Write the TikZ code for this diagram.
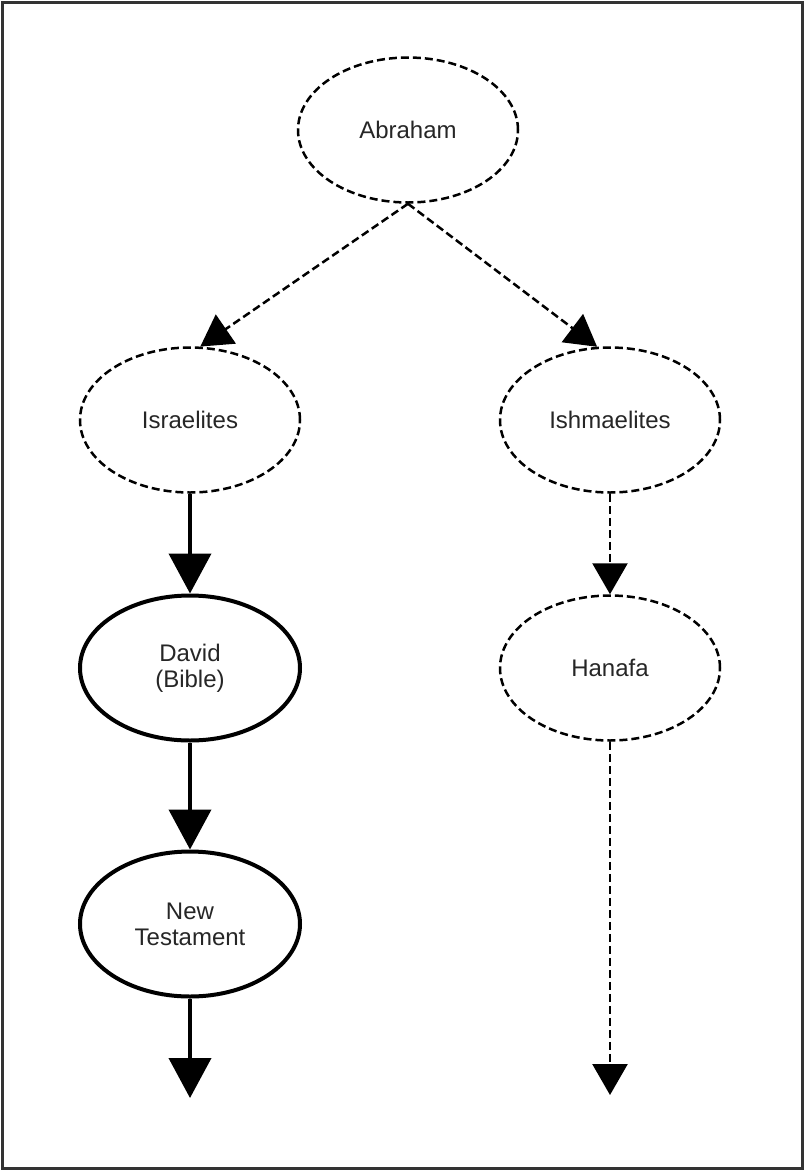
\documentclass[tikz,border=0pt]{standalone}
\usepackage{fontspec}
\setmainfont{Liberation Sans}
\usetikzlibrary{arrows.meta,shapes.geometric}

\begin{document}
\begin{tikzpicture}[x=1pt,y=-1pt,
  oval/.style={ellipse,minimum width=220pt,minimum height=145pt,inner sep=0pt,align=center,font=\fontsize{24}{26}\selectfont,text=black!85},
  hazy/.style={oval,draw,line width=2.5pt,dash pattern=on 8pt off 4pt},
  firm/.style={oval,draw,line width=4pt},
  hazyarrow/.style={-{Triangle[length=31pt,width=35pt]},line width=2.5pt,dash pattern=on 8pt off 4pt},
  firmarrow/.style={-{Triangle[length=40pt,width=42pt]},line width=4pt}]
\useasboundingbox (0,0) rectangle (805,1171);
\draw[line width=3pt,black!80] (2.5,2.5) rectangle (802.5,1168.5);
\node[hazy] (abraham) at (408,130) {Abraham};
\node[hazy] (israelites) at (190,420) {Israelites};
\node[hazy] (ishmaelites) at (610,420) {Ishmaelites};
\node[firm] (david) at (190,668) {David\\(Bible)};
\node[hazy] (hanafa) at (610,668) {Hanafa};
\node[firm] (newtest) at (190,924) {New\\Testament};
\coordinate (ntend) at (190,1098);
\coordinate (hanafaend) at (610,1095);
\draw[hazyarrow] (abraham.south) -- (israelites.82);
\draw[hazyarrow] (abraham.south) -- (ishmaelites.100);
\draw[firmarrow] (israelites.south) -- (david.north);
\draw[firmarrow] (david.south) -- (newtest.north);
\draw[firmarrow] (newtest.south) -- (ntend);
\draw[hazyarrow] (ishmaelites.south) -- (hanafa.north);
\draw[hazyarrow] (hanafa.south) -- (hanafaend);
\end{tikzpicture}
\end{document}
